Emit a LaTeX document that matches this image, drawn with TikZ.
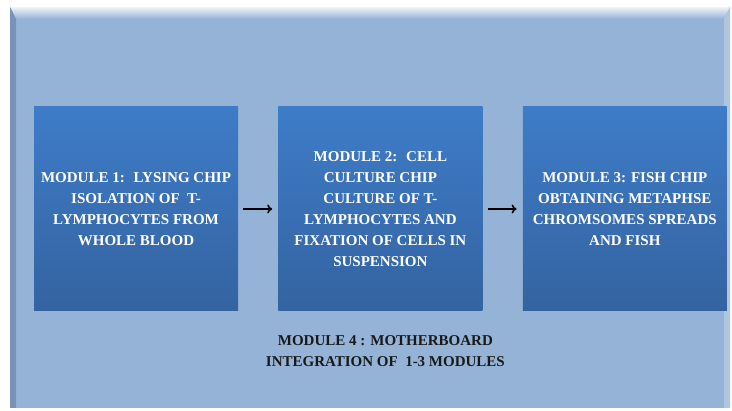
\documentclass[tikz,border=0pt]{standalone}
\usepackage{fontspec}
\setmainfont{Liberation Serif}
\usepackage{tikz}
\usetikzlibrary{arrows.meta, positioning}
\definecolor{panelblue}{RGB}{149,179,215}
\definecolor{paneledge}{RGB}{120,146,184}
\definecolor{boxtop}{RGB}{62,124,200}
\definecolor{boxbottom}{RGB}{52,99,160}

\begin{document}
\begin{tikzpicture}[x=1pt, y=1pt,
    module_box/.style={minimum width=204pt, minimum height=204pt, inner sep=2pt, top color=boxtop, bottom color=boxbottom, text=white, align=center, font=\fontsize{15}{21}\selectfont\bfseries},
    caption/.style={align=center, inner sep=0pt, text=black!90, font=\fontsize{15}{21}\selectfont\bfseries},
    arrow/.style={-{To[length=5pt, width=9pt]}, line width=1.6pt, shorten <=5pt, shorten >=6pt}
]
    \useasboundingbox (0,0) rectangle (732,411);

    % Background panel with bevelled edges
    \fill[white] (0,0) rectangle (732,411);
    \fill[panelblue] (10,3) rectangle (730,404);
    \shade[top color=white!85!panelblue, bottom color=panelblue] (10,404) -- (730,404) -- (724,392) -- (16,392) -- cycle;
    \fill[paneledge] (10,404) -- (16,392) -- (16,3) -- (10,3) -- cycle;
    \fill[white!25!panelblue] (730,404) -- (724,392) -- (724,3) -- (730,3) -- cycle;

    % Modules 1-3
    \node[module_box] (mod1) at (136,202) {MODULE 1:~ LYSING CHIP\\ISOLATION OF~ T-\\LYMPHOCYTES FROM\\WHOLE BLOOD};
    \node[module_box, right=40pt of mod1] (mod2) {MODULE 2:~ CELL\\CULTURE CHIP\\CULTURE OF T-\\LYMPHOCYTES AND\\FIXATION OF CELLS IN\\SUSPENSION};
    \node[module_box, right=40pt of mod2] (mod3) {MODULE 3: FISH CHIP\\OBTAINING METAPHSE\\CHROMSOMES SPREADS\\AND FISH};

    % Arrows between modules
    \draw[arrow] (mod1.east) -- (mod2.west);
    \draw[arrow] (mod2.east) -- (mod3.west);

    % Module 4 caption
    \node[caption, below=24pt of mod2.south, xshift=5pt] (mod4) {MODULE 4 : MOTHERBOARD\\INTEGRATION OF~ 1-3 MODULES};

\end{tikzpicture}
\end{document}
